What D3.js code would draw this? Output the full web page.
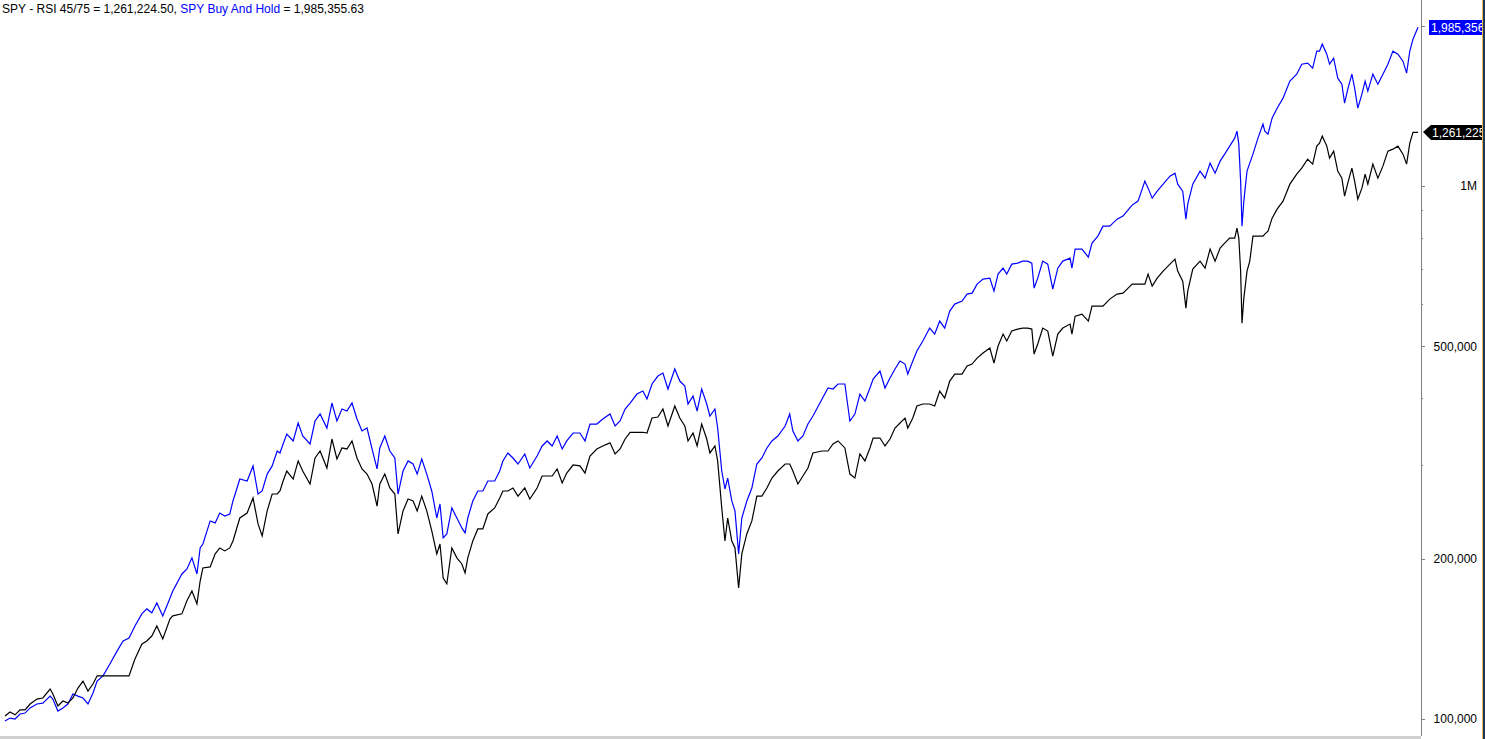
<!DOCTYPE html>
<html>
<head>
<meta charset="utf-8">
<title>SPY - RSI 45/75 vs Buy And Hold</title>
<style>
  html, body { margin: 0; padding: 0; background: #fff; }
  svg { display: block; font-family: "Liberation Sans", Arial, sans-serif; }
  .axis path { display: none; }
  .axis line { stroke: #808080; shape-rendering: crispEdges; }
</style>
</head>
<body>
<svg id="chart"></svg>
<script src="https://cdnjs.cloudflare.com/ajax/libs/d3/7.8.5/d3.min.js"></script>
<script>

// sample dates (decimal years)
var years = [
  1993.08, 1993.19, 1993.30, 1993.41, 1993.52, 1993.63, 1993.78, 1993.91, 1994.07, 1994.13,
  1994.24, 1994.35, 1994.46, 1994.57, 1994.68, 1994.79, 1994.90, 1995.01, 1995.10, 1995.23,
  1995.38, 1995.54, 1995.67, 1995.80, 1995.93, 1996.08, 1996.19, 1996.30, 1996.41, 1996.54,
  1996.70, 1996.76, 1996.96, 1997.07, 1997.18, 1997.29, 1997.36, 1997.42, 1997.58, 1997.69,
  1997.79, 1997.90, 1998.01, 1998.08, 1998.23, 1998.39, 1998.52, 1998.63, 1998.72, 1998.83,
  1998.94, 1999.05, 1999.11, 1999.18, 1999.26, 1999.40, 1999.51, 1999.61, 1999.77, 1999.88,
  1999.99, 2000.14, 2000.25, 2000.36, 2000.47, 2000.58, 2000.69, 2000.80, 2000.91, 2001.02,
  2001.13, 2001.24, 2001.30, 2001.41, 2001.52, 2001.63, 2001.70, 2001.81, 2001.92, 2002.03,
  2002.12, 2002.22, 2002.33, 2002.44, 2002.55, 2002.62, 2002.69, 2002.77, 2002.88, 2002.99,
  2003.10, 2003.17, 2003.23, 2003.34, 2003.45, 2003.56, 2003.67, 2003.82, 2003.93, 2004.00,
  2004.11, 2004.22, 2004.33, 2004.48, 2004.59, 2004.75, 2004.86, 2004.97, 2005.08, 2005.19,
  2005.30, 2005.40, 2005.54, 2005.69, 2005.80, 2005.91, 2006.06, 2006.19, 2006.35, 2006.46,
  2006.57, 2006.68, 2006.79, 2006.94, 2007.07, 2007.16, 2007.27, 2007.40, 2007.51, 2007.62,
  2007.77, 2007.88, 2007.99, 2008.06, 2008.17, 2008.26, 2008.36, 2008.47, 2008.54, 2008.65,
  2008.71, 2008.80, 2008.87, 2008.93, 2009.02, 2009.09, 2009.17, 2009.24, 2009.35, 2009.46,
  2009.57, 2009.68, 2009.79, 2009.90, 2010.03, 2010.19, 2010.29, 2010.36, 2010.47, 2010.58,
  2010.69, 2010.80, 2011.00, 2011.13, 2011.24, 2011.35, 2011.50, 2011.61, 2011.72, 2011.83,
  2011.94, 2012.05, 2012.12, 2012.27, 2012.38, 2012.49, 2012.60, 2012.71, 2012.82, 2012.88,
  2012.99, 2013.08, 2013.21, 2013.36, 2013.47, 2013.58, 2013.69, 2013.80, 2013.91, 2014.07,
  2014.18, 2014.29, 2014.40, 2014.53, 2014.68, 2014.77, 2014.86, 2014.97, 2015.05, 2015.16,
  2015.29, 2015.40, 2015.51, 2015.60, 2015.65, 2015.73, 2015.84, 2015.95, 2016.06, 2016.17,
  2016.28, 2016.44, 2016.48, 2016.55, 2016.70, 2016.84, 2016.92, 2017.05, 2017.16, 2017.31,
  2017.47, 2017.60, 2017.69, 2017.80, 2017.93, 2018.08, 2018.15, 2018.24, 2018.35, 2018.48,
  2018.63, 2018.74, 2018.80, 2018.91, 2018.98, 2019.02, 2019.13, 2019.29, 2019.40, 2019.51,
  2019.62, 2019.73, 2019.83, 2019.94, 2020.05, 2020.10, 2020.14, 2020.18, 2020.21, 2020.25,
  2020.32, 2020.38, 2020.45, 2020.56, 2020.67, 2020.71, 2020.78, 2020.87, 2020.98, 2021.11,
  2021.26, 2021.41, 2021.52, 2021.65, 2021.76, 2021.85, 2021.91, 2021.97, 2022.07, 2022.13,
  2022.22, 2022.31, 2022.40, 2022.46, 2022.53, 2022.62, 2022.68, 2022.75, 2022.84, 2022.91,
  2022.97, 2023.08, 2023.19, 2023.30, 2023.41, 2023.52, 2023.63, 2023.74, 2023.82, 2023.89,
  2023.96, 2024.07
];

// SPY Buy And Hold equity
var buyHold = [
  99100, 100400, 100000, 102200, 102600, 104900, 106700, 107100, 110400, 109000,
  103500, 104900, 106700, 111400, 110400, 109500, 106700, 111900, 117800, 120500,
  126800, 134200, 140100, 141900, 149500, 157500, 160900, 158200, 165100, 156100,
  168700, 173900, 187100, 191200, 200600, 187100, 209400, 213000, 235300, 233300,
  243500, 240400, 242500, 256500, 282000, 279600, 298400, 264300, 267800, 288100,
  298400, 318300, 315600, 328100, 342500, 332400, 359200, 339600, 328100, 362300,
  373400, 351500, 391600, 362300, 381600, 378300, 391600, 365400, 347000, 351500,
  321100, 294500, 322500, 339600, 318300, 308800, 264300, 291900, 304900, 300900,
  288100, 307500, 288100, 267800, 238300, 253200, 218600, 222400, 248900, 238300,
  228300, 223400, 238300, 256500, 267800, 267800, 279600, 279600, 291900, 304900,
  315600, 308800, 300900, 314200, 295800, 311500, 325300, 332400, 325300, 339600,
  321100, 332400, 344000, 344000, 332400, 357600, 357600, 365400, 373400, 354600,
  362300, 381600, 391600, 407100, 412400, 398400, 425100, 440000, 445700, 416000,
  453500, 430600, 421400, 389900, 403600, 378300, 416000, 389900, 370200, 381600,
  351500, 291900, 270100, 283200, 256500, 245700, 204100, 238300, 256500, 271300,
  300900, 308800, 322500, 332400, 339600, 354600, 373400, 347000, 332400, 339600,
  357600, 370200, 398400, 417800, 416000, 425100, 425100, 362300, 373400, 407100,
  395000, 417800, 434300, 449600, 417800, 436200, 453500, 469500, 463400, 443800,
  469500, 490200, 511800, 541300, 527500, 558000, 541300, 582500, 600400, 608300,
  626900, 629600, 654600, 668800, 671700, 635100, 683400, 701300, 683400, 713500,
  716700, 722900, 722900, 716700, 643400, 671700, 722900, 713500, 640600, 701300,
  722900, 732200, 701300, 761300, 761300, 735400, 781300, 805300, 840900, 840900,
  866600, 878000, 897100, 920700, 936800, 1021200, 990800, 948900, 978100, 1008000,
  1043500, 1057100, 1008000, 978100, 866600, 924600, 1008000, 1066300, 1034500, 1103800,
  1057100, 1113300, 1147500, 1188000, 1229600, 1267400, 1198200, 1021200, 840900, 936800,
  1066300, 1103800, 1147500, 1229600, 1306300, 1267400, 1251000, 1340500, 1399700, 1461500,
  1573000, 1621100, 1692700, 1700000, 1663800, 1790600, 1790600, 1845500, 1767400, 1692700,
  1737100, 1593400, 1552600, 1430400, 1519500, 1621100, 1526000, 1399700, 1486900, 1573000,
  1506400, 1621100, 1552600, 1621100, 1692700, 1790600, 1767400, 1714900, 1628100, 1790600,
  1885800, 1985355.63
];

// SPY - RSI 45/75 strategy equity
var rsiStrategy = [
  101300, 103100, 101800, 104000, 104000, 106700, 109000, 109500, 113800, 111400,
  105800, 108100, 107100, 109500, 114300, 117800, 112800, 116300, 120500, 120500,
  120500, 120500, 120500, 120500, 129600, 138100, 140100, 143100, 149500, 141300,
  154100, 156100, 157500, 166600, 173900, 164400, 181500, 192000, 192900, 204100,
  209400, 206700, 209400, 215800, 238300, 243500, 259800, 232300, 220500, 245700,
  264300, 264300, 267800, 279600, 291900, 282000, 304900, 291900, 276000, 308800,
  318300, 295800, 335200, 307500, 322500, 321100, 332400, 308800, 294500, 288100,
  276000, 250900, 276000, 288100, 271300, 264300, 222400, 245700, 258700, 256500,
  245700, 261900, 245700, 225300, 204100, 213000, 183900, 179300, 209400, 200600,
  195400, 187900, 200600, 215800, 227300, 227300, 242500, 248900, 259800, 267800,
  267800, 271300, 261900, 271300, 258700, 271300, 285700, 285700, 285700, 294500,
  277200, 289400, 299600, 298400, 289400, 311500, 321100, 325300, 329700, 314200,
  321100, 335200, 345100, 345100, 345100, 344000, 367000, 368600, 381600, 354600,
  386600, 367000, 354600, 332400, 344000, 325300, 357600, 335200, 315600, 325300,
  304900, 248900, 215800, 238300, 215800, 209400, 176200, 204100, 222400, 235300,
  261900, 261900, 271300, 283200, 291900, 300900, 300900, 291900, 276000, 285700,
  295800, 315600, 318300, 318300, 328100, 332400, 322500, 288100, 283200, 314200,
  304900, 322500, 336600, 336600, 325300, 335200, 351500, 359200, 367000, 351500,
  367000, 386600, 389900, 389900, 386600, 412400, 400100, 430600, 443800, 443800,
  459400, 463400, 475500, 485900, 496500, 465400, 500900, 527500, 511800, 534400,
  539000, 541300, 541300, 539000, 483800, 505200, 541300, 534400, 479700, 527500,
  541300, 550700, 527500, 570000, 575000, 558000, 595300, 595300, 595300, 613500,
  626900, 629600, 640600, 654600, 654600, 654600, 683400, 649000, 671700, 692300,
  713500, 729100, 692300, 663000, 590100, 635100, 698300, 722900, 701300, 761300,
  722900, 764600, 781300, 798300, 798300, 833600, 798300, 692300, 553000, 616100,
  692300, 722900, 805300, 805300, 805300, 812300, 822900, 870300, 904900, 936800,
  1008000, 1052600, 1080200, 1123000, 1098900, 1188000, 1203400, 1240300, 1188000, 1127900,
  1162500, 1066300, 1034500, 957200, 1012300, 1080200, 1021200, 944800, 990800, 1052600,
  1008000, 1098900, 1034500, 1089500, 1162500, 1172600, 1188000, 1147500, 1098900, 1203400,
  1261224.50, 1261224.50
];

// y axis ticks (2M tick is hidden under the last-value box, so it has no label)
var majorTicks = [100000, 200000, 500000, 1000000, 2000000];
var labeledTicks = [100000, 200000, 500000, 1000000];
var minorTicks = [300000, 400000, 600000, 700000, 800000, 900000];

var titleParts = [
  { text: "SPY - RSI 45/75 = 1,261,224.50, ", color: "#000000" },
  { text: "SPY Buy And Hold", color: "#0000ff" },
  { text: " = 1,985,355.63", color: "#000000" }
];

var w = 1485;
var h = 739;
var axisX = 1421;

var svg = d3.select("#chart")
    .attr("width", w)
    .attr("height", h);

svg.append("rect")
    .attr("width", w)
    .attr("height", h)
    .attr("fill", "#ffffff");

var xScale = d3.scaleLinear()
    .domain([years[0], years[years.length - 1]])
    .range([5, 1418]);

var yScale = d3.scaleLog()
    .domain([100000, 1000000])
    .range([719, 186]);

function fmt(v) {
    if (v >= 1000000 && v % 1000000 === 0) return (v / 1000000) + "M";
    return d3.format(",")(v);
}

// equity lines
var line = d3.line()
    .x(function(d, i) { return xScale(years[i]); })
    .y(function(d) { return yScale(d); });

svg.append("path")
    .datum(buyHold)
    .attr("fill", "none")
    .attr("stroke", "#0000ff")
    .attr("stroke-width", 1.2)
    .attr("d", line);

svg.append("path")
    .datum(rsiStrategy)
    .attr("fill", "none")
    .attr("stroke", "#000000")
    .attr("stroke-width", 1.2)
    .attr("d", line);

// axis line
svg.append("line")
    .attr("x1", axisX + 0.5).attr("x2", axisX + 0.5)
    .attr("y1", 0).attr("y2", 736)
    .attr("stroke", "#808080")
    .attr("shape-rendering", "crispEdges");

svg.append("g")
    .attr("class", "axis")
    .attr("transform", "translate(" + axisX + ",0)")
    .call(d3.axisRight(yScale)
        .tickValues(majorTicks)
        .tickSize(4)
        .tickFormat(""));

svg.append("g")
    .attr("class", "axis")
    .attr("transform", "translate(" + axisX + ",0)")
    .call(d3.axisRight(yScale)
        .tickValues(minorTicks)
        .tickSize(2)
        .tickFormat(""));

svg.append("g")
    .selectAll("text")
    .data(labeledTicks)
    .enter()
    .append("text")
    .attr("x", 1477)
    .attr("y", function(d) { return yScale(d); })
    .attr("dy", "0.35em")
    .attr("text-anchor", "end")
    .attr("font-size", "12px")
    .attr("fill", "#000")
    .text(fmt);

// last value labels
var lastBlue = buyHold[buyHold.length - 1];
var lastBlack = rsiStrategy[rsiStrategy.length - 1];

var by = Math.round(yScale(lastBlue));
svg.append("rect")
    .attr("x", 1429)
    .attr("y", by - 7)
    .attr("width", 60)
    .attr("height", 15)
    .attr("fill", "#0000ff");
svg.append("text")
    .attr("x", 1431)
    .attr("y", by)
    .attr("dy", "0.38em")
    .attr("font-size", "12px")
    .attr("fill", "#ffffff")
    .text(d3.format(",")(Math.round(lastBlue)));

var ky = Math.round(yScale(lastBlack));
svg.append("path")
    .attr("d", "M1423," + ky + "L1431," + (ky - 7) + "L1490," + (ky - 7) +
        "L1490," + (ky + 8) + "L1431," + (ky + 8) + "Z")
    .attr("fill", "#000000");
svg.append("text")
    .attr("x", 1432)
    .attr("y", ky)
    .attr("dy", "0.38em")
    .attr("font-size", "12px")
    .attr("fill", "#ffffff")
    .text(d3.format(",")(Math.round(lastBlack)));

// right frame edge
svg.append("rect")
    .attr("x", 1482).attr("y", 0)
    .attr("width", 1).attr("height", h)
    .attr("fill", "#e9b84f");
svg.append("rect")
    .attr("x", 1483).attr("y", 0)
    .attr("width", 2).attr("height", h)
    .attr("fill", "#22355a");

// bottom strip
svg.append("rect")
    .attr("x", 0).attr("y", 736)
    .attr("width", 1421).attr("height", 3)
    .attr("fill", "#cfcfcf");

// title
var title = svg.append("text")
    .attr("x", 2)
    .attr("y", 13)
    .attr("font-size", "12px");

title.selectAll("tspan")
    .data(titleParts)
    .enter()
    .append("tspan")
    .attr("fill", function(d) { return d.color; })
    .text(function(d) { return d.text; });

</script>
</body>
</html>
